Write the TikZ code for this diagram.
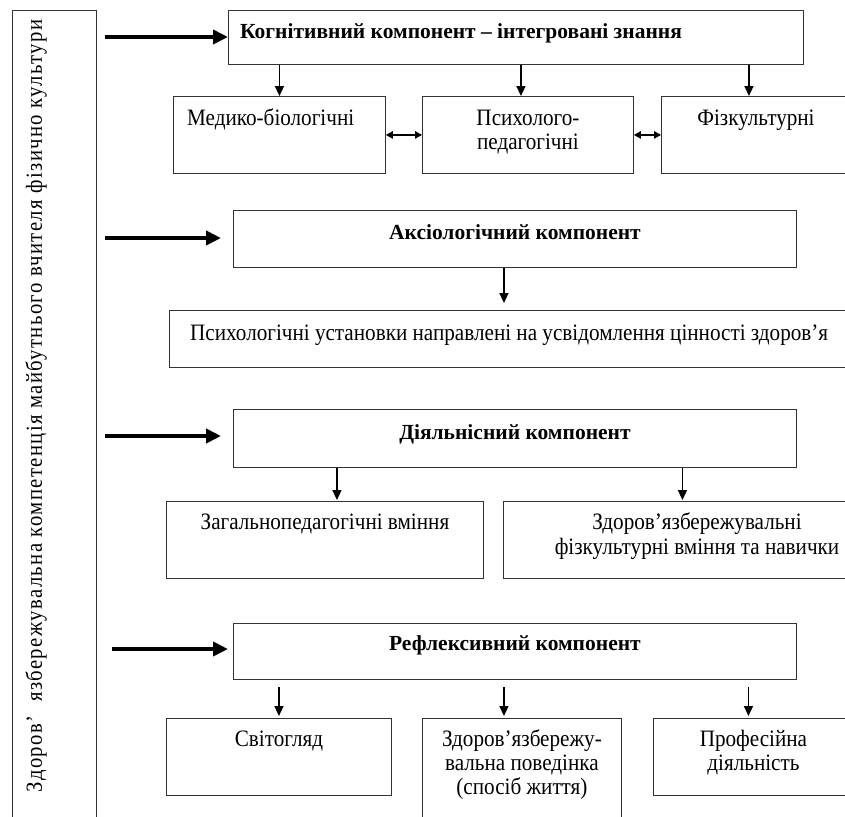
\documentclass[tikz,border=0pt]{standalone}
\usepackage{fontspec}
\setmainfont{Liberation Serif}
\newfontfamily\boxfont[FakeStretch=0.9]{Liberation Serif}
\newfontfamily\sidefont[FakeStretch=0.9,LetterSpace=6]{Liberation Serif}
\usetikzlibrary{arrows.meta,positioning}

\tikzset{
  box/.style={draw=black!80, line width=0.9pt, inner sep=0pt, anchor=north west},
  txt/.style={inner sep=0pt, font=\boxfont\fontsize{23.5}{24}\selectfont, align=center},
  head/.style={inner sep=0pt, font=\fontsize{21.5}{24}\selectfont\bfseries},
  arr/.style={line width=1.6pt, -{Triangle[length=10pt,width=9pt]}},
  dblarr/.style={line width=1.1pt, {Triangle[length=7pt,width=7.5pt]}-{Triangle[length=7pt,width=7.5pt]}},
  bigarr/.style={line width=4pt, -{Triangle[length=15pt,width=14pt]}}
}

\begin{document}
\begin{tikzpicture}[x=1pt,y=-1pt]
\useasboundingbox (0,0) rectangle (845,816);

% side box
\node[box, minimum width=84pt, minimum height=830pt] (side) at (12,10) {};
\node[inner sep=0pt, rotate=90, font=\sidefont\fontsize{23}{24}\selectfont] (sidet) at (36,406)
  {Здоров’\hspace{14pt}язбережувальна компетенція майбутнього вчителя фізично культури};

% cognitive
\node[box, minimum width=575pt, minimum height=54pt] (kog) at (228,10) {};
\node[head, anchor=base west] (kogt) at ([xshift=12pt,yshift=-29pt]kog.north west) {Когнітивний компонент – інтегровані знання};
\node[box, minimum width=212pt, minimum height=77pt] (med) at (173,96) {};
\node[box, minimum width=211pt, minimum height=77pt] (psy) at (422,96) {};
\node[box, minimum width=189pt, minimum height=77pt] (fiz) at (661,96) {};
\node[txt, anchor=base west] (medt) at ([xshift=14pt,yshift=-29.5pt]med.north west) {Медико-біологічні};
\node[txt, anchor=base] (psyt) at ([yshift=-53pt]psy.north) {Психолого-\\педагогічні};
\node[txt, anchor=base] (fizt) at ([yshift=-29pt]fiz.north) {Фізкультурні};

% axiological
\node[box, minimum width=563pt, minimum height=57pt] (aks) at (233,210) {};
\node[head, anchor=base] (akst) at ([yshift=-29pt]aks.north) {Аксіологічний компонент};
\node[box, minimum width=690pt, minimum height=57pt] (ust) at (169,310) {};
\node[txt, anchor=base west] (ustt) at ([xshift=21pt,yshift=-30pt]ust.north west) {Психологічні установки направлені на усвідомлення цінності здоров’я};

% activity
\node[box, minimum width=563pt, minimum height=58pt] (dil) at (233,409) {};
\node[head, anchor=base] (dilt) at ([yshift=-30pt]dil.north) {Діяльнісний компонент};
\node[box, minimum width=317pt, minimum height=77pt] (zag) at (166,501) {};
\node[box, minimum width=350pt, minimum height=77pt] (zdv) at (503,501) {};
\node[txt, anchor=base] (zagt) at ([yshift=-28.5pt]zag.north) {Загальнопедагогічні вміння};
\node[txt, anchor=base] (zdvt) at ([xshift=194pt,yshift=-53.5pt]zdv.north west) {Здоров’язбережувальні\\[1pt]фізкультурні вміння та навички};

% reflexive
\node[box, minimum width=563pt, minimum height=56pt] (ref) at (233,623) {};
\node[head, anchor=base] (reft) at ([yshift=-27pt]ref.north) {Рефлексивний компонент};
\node[box, minimum width=225pt, minimum height=77pt] (svi) at (166,718) {};
\node[box, minimum width=199pt, minimum height=110pt] (zhy) at (422,718) {};
\node[box, minimum width=200pt, minimum height=77pt] (pro) at (653,718) {};
\node[txt, anchor=base] (svit) at ([yshift=-28.5pt]svi.north) {Світогляд};
\node[txt, anchor=base] (zhyt) at ([yshift=-76pt]zhy.north) {Здоров’язбережу-\\вальна поведінка\\(спосіб життя)};
\node[txt, anchor=base] (prot) at ([yshift=-52.5pt]pro.north) {Професійна\\діяльність};

% inputs from the side box
\coordinate (in1) at (105,37);
\coordinate (in2) at (105,238);
\coordinate (in3) at (105,436);
\coordinate (in4) at (112,649);
\draw[bigarr] (in1) -- (in1 -| kog.west);
\draw[bigarr, shorten >=12pt] (in2) -- (in2 -| aks.west);
\draw[bigarr, shorten >=12pt] (in3) -- (in3 -| dil.west);
\draw[bigarr, shorten >=5pt] (in4) -- (in4 -| ref.west);

% links
\draw[arr] (kog.south -| med.north) -- (med.north);
\draw[arr] ([xshift=-7pt]kog.south -| psy.north) -- ([xshift=-7pt]psy.north);
\draw[arr] ([xshift=-7pt]kog.south -| fiz.north) -- ([xshift=-7pt]fiz.north);
\draw[dblarr] (med.east) -- (psy.west);
\draw[dblarr] (psy.east) -- (fiz.west);
\draw[arr, shorten >=7pt] ([xshift=-11pt]aks.south) -- ([xshift=-11pt]aks.south |- ust.north);
\draw[arr, shorten >=1pt] ([xshift=12pt]dil.south -| zag.north) -- ([xshift=12pt]zag.north);
\draw[arr, shorten >=1pt] ([xshift=4pt]dil.south -| zdv.north) -- ([xshift=4pt]zdv.north);
\draw[arr, shorten <=7pt, shorten >=2pt] (ref.south -| svi.north) -- (svi.north);
\draw[arr, shorten <=7pt, shorten >=2pt] ([xshift=-18pt]ref.south -| zhy.north) -- ([xshift=-18pt]zhy.north);
\draw[arr, shorten <=7pt, shorten >=2pt] ([xshift=-5pt]ref.south -| pro.north) -- ([xshift=-5pt]pro.north);
\end{tikzpicture}
\end{document}
